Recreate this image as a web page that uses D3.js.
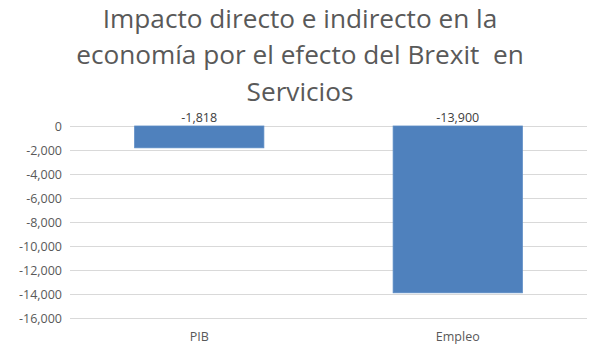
<!DOCTYPE html>
<html><head><meta charset="utf-8">
<script src="https://cdn.jsdelivr.net/npm/d3@7"></script>
<style>body{margin:0;background:#fff}</style>
</head><body>
<svg id="c" width="598" height="357"></svg>
<script>
const categories = ["PIB", "Empleo"];
const values = [-1818, -13900];
const labels = ["-1,818", "-13,900"];
const yTicks = [0, -2000, -4000, -6000, -8000, -10000, -12000, -14000, -16000];
const titleLines = ["Impacto directo e indirecto en la", "economía por el efecto del Brexit  en", "Servicios"];

(function () {
const svg = d3.select("#c");
const font = "'Open Sans', sans-serif";
const grey = "#595959";
const pl = 70, pr = 587, pt = 126, pb = 318;

const x = d3.scaleBand().domain(categories).range([pl, pr]).paddingInner(0.5).paddingOuter(0.25);
const y = d3.scaleLinear().domain([0, -16000]).range([pt, pb]);

svg.append("g").selectAll("text").data(titleLines).join("text")
  .attr("x", 300).attr("y", (d, i) => 27.5 + i * 36.5)
  .attr("text-anchor", "middle").attr("font-family", font).attr("font-size", 26.2)
  .style("white-space", "pre")
  .attr("fill", grey).text(d => d);

svg.append("g").selectAll("line").data(yTicks).join("line")
  .attr("x1", pl).attr("x2", pr)
  .attr("y1", d => Math.round(y(d)) + 0.5).attr("y2", d => Math.round(y(d)) + 0.5)
  .attr("stroke", "#d9d9d9").attr("stroke-width", 1);

const fmt = d3.format(",");
svg.append("g").selectAll("text").data(yTicks).join("text")
  .attr("x", 62).attr("y", d => y(d) + 4.5)
  .attr("text-anchor", "end").attr("font-family", font).attr("font-size", 12.5)
  .attr("fill", grey).text(d => d === 0 ? "0" : "-" + fmt(-d));

svg.append("g").selectAll("rect").data(values).join("rect")
  .attr("x", (d, i) => x(categories[i])).attr("width", x.bandwidth())
  .attr("y", y(0)).attr("height", d => y(d) - y(0))
  .attr("fill", "#4f81bd").attr("stroke", "#5b8bc4").attr("stroke-width", 0.8);

svg.append("g").selectAll("text").data(labels).join("text")
  .attr("x", (d, i) => x(categories[i]) + x.bandwidth() / 2).attr("y", y(0) - 4.5)
  .attr("text-anchor", "middle").attr("font-family", font).attr("font-size", 12.5)
  .attr("fill", "#404040").text(d => d);

svg.append("g").selectAll("text").data(categories).join("text")
  .attr("x", d => x(d) + x.bandwidth() / 2).attr("y", 341)
  .attr("text-anchor", "middle").attr("font-family", font).attr("font-size", 12.5)
  .attr("fill", grey).text(d => d);
})();
</script>
</body></html>
